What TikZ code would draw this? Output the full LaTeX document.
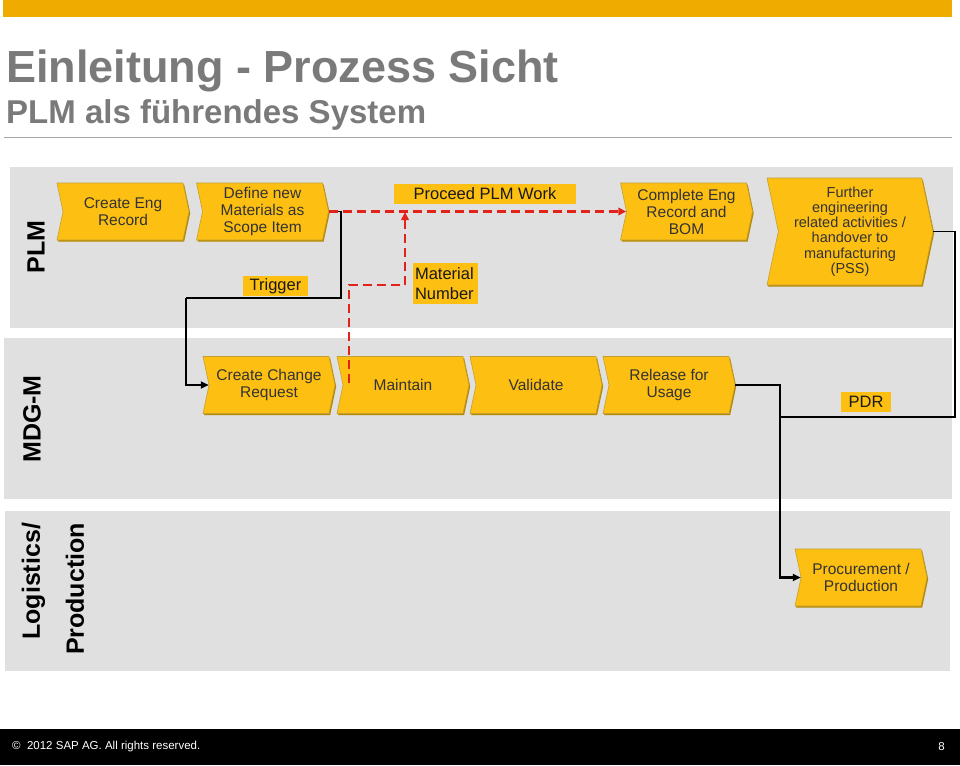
\documentclass[tikz,border=0pt]{standalone}
\usepackage{fontspec}
\setmainfont{Liberation Sans}
\usetikzlibrary{shapes.symbols,shadows,arrows.meta}
\definecolor{sapgold}{HTML}{F0AB00}
\definecolor{chev}{HTML}{FDBF12}
\definecolor{chevedge}{HTML}{B58800}
\definecolor{lanegray}{HTML}{E0E0E0}
\definecolor{titlegray}{HTML}{7A7A7A}
\definecolor{dtext}{HTML}{333333}
\definecolor{sapred}{HTML}{E2231A}
\begin{document}
\begin{tikzpicture}[x=1pt,y=-1pt,
  chevron/.style={signal, signal to=east, signal from=west, signal pointer angle=156,
    fill=chev, draw=chevedge!80, line width=0.6pt, inner sep=0pt, align=center,
    text=dtext, font=\fontsize{15.5}{17}\selectfont,
    minimum height=57pt, minimum width=132pt,
    drop shadow={shadow xshift=1.2pt, shadow yshift=-1.5pt, opacity=1, fill=chevedge}},
  tag/.style={rectangle, fill=chev, inner sep=0pt, text=black!90,
    font=\fontsize{16.5}{20}\selectfont},
  lanebox/.style={fill=lanegray},
  lanelabel/.style={rotate=90, font=\bfseries\fontsize{25}{44}\selectfont, text=black},
  blk/.style={black, line width=1.9pt},
  blkarrow/.style={blk, -{Triangle[length=8pt,width=7pt]}},
  reddash/.style={sapred, line width=2.5pt, dash pattern=on 9pt off 5pt},
  redarrow/.style={reddash, -{Triangle[length=8pt,width=7.5pt]}}
]
\useasboundingbox (0,0) rectangle (960,765);
% header
\fill[sapgold] (3,0) rectangle (952,17);
\node[anchor=base west, inner sep=0pt, text=titlegray, font=\bfseries\fontsize{45}{45}\selectfont] (title) at (6,83) {Einleitung - Prozess Sicht};
\node[anchor=base west, inner sep=0pt, text=titlegray, font=\bfseries\fontsize{33}{33}\selectfont] (subtitle) at (6,124) {PLM als führendes System};
\draw[black!35, line width=1pt] (4,137) -- (952,137);
% lanes
\fill[lanebox] (10,167) rectangle (953,328);
\fill[lanebox] (4,338) rectangle (952,499);
\fill[lanebox] (5,511) rectangle (950,671);
\node[lanelabel] (lplm) at (36,247) {PLM};
\node[lanelabel] (lmdg) at (32,419) {MDG-M};
\node[lanelabel, align=right] (llog) at (53,589) {Logistics/\\Production};
% PLM chevrons
\node[chevron] (ceng) at (123,211.5) {Create Eng\\Record};
\node[chevron] (defmat) at (262.5,211.5) {Define new\\Materials as\\Scope Item};
\node[chevron] (compl) at (686.5,211.5) {Complete Eng\\Record and\\BOM};
\node[chevron, minimum width=166pt, minimum height=107pt, font=\fontsize{14.5}{15.2}\selectfont] (further) at (850,231.5) {Further\\engineering\\related activities /\\handover to\\manufacturing\\(PSS)};
% MDG-M chevrons
\node[chevron] (ccr) at (269,385) {Create Change\\Request};
\node[chevron] (maint) at (403,385) {Maintain};
\node[chevron] (valid) at (536,385) {Validate};
\node[chevron] (rel) at (669,385) {Release for\\Usage};
% Logistics chevron
\node[chevron] (proc) at (861,577.5) {Procurement /\\Production};
% tags
\node[tag, minimum width=182pt, minimum height=20pt] (proceed) at (485,194) {Proceed PLM Work};
\node[tag, minimum width=65pt, minimum height=20pt] (trigger) at (275.5,286) {Trigger};
\node[tag, minimum width=65pt, minimum height=41pt, align=left, text width=61pt, font=\fontsize{16.5}{20.5}\selectfont] (matnum) at (445.5,283.5) {Material\\Number};
\node[tag, minimum width=50pt, minimum height=20pt] (pdr) at (866,402) {PDR};
% coordinates
\coordinate (b1) at (341,298);
\coordinate (b2) at (186,298);
\coordinate (rs) at (349,383);
\coordinate (rb) at (405,285);
\coordinate (rt) at (405,212);
\coordinate (c1) at (780,417);
\coordinate (c2) at (955,417);
% black connectors
\draw[blk] (defmat.east) -| (b1) -- (b2);
\draw[blkarrow] (b2) |- (ccr.west);
\draw[blk] (rel.east) -| (c1);
\draw[blk] (further.east) -| (c2) -- (c1);
\draw[blkarrow, line width=2.6pt] (c1) |- (proc.west);
% red connectors
\draw[redarrow] (defmat.east) -- (compl.west);
\draw[reddash] (rs) |- (rb);
\draw[redarrow] (rb) -- (rt);
% footer
\fill[black] (0,729) rectangle (960,765);
\node[anchor=west, inner sep=0pt, text=white, font=\fontsize{11.5}{12}\selectfont] (copy) at (12,747) {©\ \ 2012 SAP AG. All rights reserved.};
\node[anchor=east, inner sep=0pt, text=white, font=\fontsize{11.5}{12}\selectfont] (page) at (945,747) {8};
\end{tikzpicture}
\end{document}
